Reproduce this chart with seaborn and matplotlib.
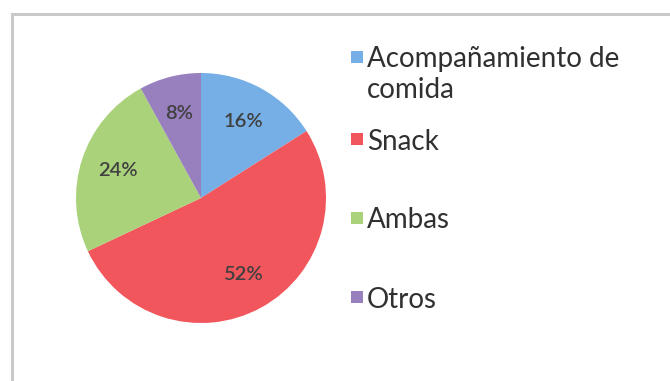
import matplotlib
matplotlib.use("Agg")
import matplotlib.pyplot as plt
from matplotlib.patches import Rectangle
import seaborn as sns

# Uso del producto (porcentaje de respuestas)
categorias = ["Acompañamiento de\ncomida", "Snack", "Ambas", "Otros"]
porcentajes = [16, 52, 24, 8]
colores = ["#76AEE6", "#F1565C", "#AAD27A", "#987FBE"]

sns.set_theme(style="white")
plt.rcParams["font.family"] = ["Lato", "DejaVu Sans"]

W, H = 670, 381
fig = plt.figure(figsize=(W / 100, H / 100), dpi=100)
fig.patch.set_facecolor("white")

# Chart frame (only the top and left edges fall inside the canvas)
fig.add_artist(Rectangle((12 / W, -0.2), 1.5, 1.2 - 14 / H,
                         transform=fig.transFigure, fill=False,
                         edgecolor="#C9C9C9", linewidth=2.2, clip_on=False))

# Pie axes: centre (201, 198) px, radius 125 px
cx, cy, r = 201, 198, 125
ax = fig.add_axes([(cx - r) / W, (H - cy - r) / H, 2 * r / W, 2 * r / H])
wedges, texts, autotexts = ax.pie(
    porcentajes, colors=colores, startangle=90, counterclock=False,
    autopct=lambda p: f"{p:.0f}%", pctdistance=0.7,
    wedgeprops=dict(linewidth=0),
    textprops=dict(color="#404040", fontsize=14.5, fontweight="semibold"))
ax.set_xlim(-1, 1)
ax.set_ylim(-1, 1)
ax.set_aspect("auto")

# Legend entries: colour square aligned with the first text line
filas_y = [57, 139, 218, 297]
sq = 12
for nombre, color, y in zip(categorias, colores, filas_y):
    fig.add_artist(Rectangle((351 / W, (H - y - sq / 2) / H), sq / W, sq / H,
                             transform=fig.transFigure, facecolor=color,
                             edgecolor="none"))
    for i, linea in enumerate(nombre.split("\n")):
        fig.text(367 / W, (H - y - i * 31) / H, linea, ha="left",
                 va="center_baseline", fontsize=20, color="#303030")

fig.savefig("out.png", dpi=100, facecolor="white")
